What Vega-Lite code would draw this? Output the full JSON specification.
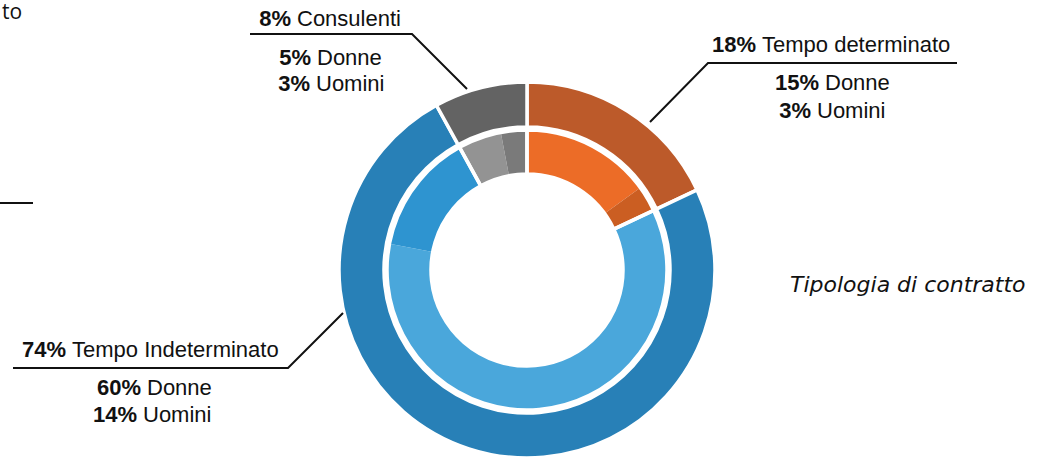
{
  "$schema": "https://vega.github.io/schema/vega-lite/v6.json",
  "width": 1053,
  "height": 458,
  "padding": 0,
  "autosize": {"type": "none"},
  "background": "white",
  "config": {"view": {"stroke": null}},
  "datasets": {
    "outer": [
      {"seg": "O-det", "v": 18, "o": 1},
      {"seg": "O-ind", "v": 74, "o": 2},
      {"seg": "O-cons", "v": 8, "o": 3}
    ],
    "inner": [
      {"seg": "I-det-D", "v": 15, "o": 1},
      {"seg": "I-det-U", "v": 3, "o": 2},
      {"seg": "I-ind-D", "v": 60, "o": 3},
      {"seg": "I-ind-U", "v": 14, "o": 4},
      {"seg": "I-cons-D", "v": 5, "o": 5},
      {"seg": "I-cons-U", "v": 3, "o": 6}
    ],
    "leaders": [
      {"g": "cons", "i": 1, "lx": -277, "ly": 236},
      {"g": "cons", "i": 2, "lx": -115, "ly": 236},
      {"g": "cons", "i": 3, "lx": -60, "ly": 181},
      {"g": "det", "i": 1, "lx": 430, "ly": 207},
      {"g": "det", "i": 2, "lx": 181, "ly": 207},
      {"g": "det", "i": 3, "lx": 123, "ly": 148},
      {"g": "ind", "i": 1, "lx": -514, "ly": -98},
      {"g": "ind", "i": 2, "lx": -239, "ly": -98},
      {"g": "ind", "i": 3, "lx": -184, "ly": -43},
      {"g": "rem", "i": 1, "lx": -527, "ly": 67},
      {"g": "rem", "i": 2, "lx": -494, "ly": 67}
    ],
    "labels": [
      {"lx": -236, "ly": 244, "pct": "8%", "name": "Consulenti"},
      {"lx": -216, "ly": 205, "pct": "5%", "name": "Donne"},
      {"lx": -217, "ly": 179, "pct": "3%", "name": "Uomini"},
      {"lx": 229, "ly": 218, "pct": "18%", "name": "Tempo determinato"},
      {"lx": 292, "ly": 180, "pct": "15%", "name": "Donne"},
      {"lx": 284, "ly": 152, "pct": "3%", "name": "Uomini"},
      {"lx": -461, "ly": -87, "pct": "74%", "name": "Tempo Indeterminato"},
      {"lx": -386, "ly": -125, "pct": "60%", "name": "Donne"},
      {"lx": -390, "ly": -152, "pct": "14%", "name": "Uomini"}
    ],
    "notes": [
      {"lx": 263, "ly": -22, "t": "Tipologia di contratto"}
    ],
    "remnant": [
      {"lx": -525, "ly": 251, "t": "to"}
    ]
  },
  "layer": [
    {
      "data": {"name": "outer"},
      "mark": {"type": "arc", "radius": 188, "radius2": 143, "stroke": "white", "strokeWidth": 3.5},
      "encoding": {
        "x": {"datum": 0, "type": "quantitative", "scale": {"domain": [-527, 526], "nice": false, "zero": false}, "axis": null},
        "y": {"datum": 0, "type": "quantitative", "scale": {"domain": [-188, 270], "nice": false, "zero": false}, "axis": null},
        "theta": {"field": "v", "type": "quantitative", "stack": true, "scale": {"domain": [0, 100]}},
        "order": {"field": "o"},
        "color": {
          "field": "seg", "type": "nominal", "legend": null,
          "scale": {
            "domain": ["O-det", "O-ind", "O-cons", "I-det-D", "I-det-U", "I-ind-D", "I-ind-U", "I-cons-D", "I-cons-U"],
            "range": ["#BC5A2A", "#2880B7", "#636363", "#EC6C27", "#CB5E22", "#4AA7DB", "#2E94D0", "#939393", "#7A7A7A"]
          }
        }
      }
    },
    {
      "data": {"name": "inner"},
      "mark": {"type": "arc", "radius": 140, "radius2": 96},
      "encoding": {
        "x": {"datum": 0, "type": "quantitative", "scale": {"domain": [-527, 526], "nice": false, "zero": false}, "axis": null},
        "y": {"datum": 0, "type": "quantitative", "scale": {"domain": [-188, 270], "nice": false, "zero": false}, "axis": null},
        "theta": {"field": "v", "type": "quantitative", "stack": true, "scale": {"domain": [0, 100]}},
        "order": {"field": "o"},
        "color": {"field": "seg", "type": "nominal", "legend": null}
      }
    },
    {
      "data": {"name": "outer"},
      "mark": {"type": "arc", "radius": 140, "radius2": 96, "fill": "white", "fillOpacity": 0, "stroke": "white", "strokeWidth": 3.5},
      "encoding": {
        "x": {"datum": 0, "type": "quantitative", "scale": {"domain": [-527, 526], "nice": false, "zero": false}, "axis": null},
        "y": {"datum": 0, "type": "quantitative", "scale": {"domain": [-188, 270], "nice": false, "zero": false}, "axis": null},
        "theta": {"field": "v", "type": "quantitative", "stack": true, "scale": {"domain": [0, 100]}},
        "order": {"field": "o"}
      }
    },
    {
      "data": {"name": "leaders"},
      "mark": {"type": "line", "color": "#111111", "strokeWidth": 2, "interpolate": "linear"},
      "encoding": {
        "x": {"field": "lx", "type": "quantitative", "scale": {"domain": [-527, 526], "nice": false, "zero": false}, "axis": null},
        "y": {"field": "ly", "type": "quantitative", "scale": {"domain": [-188, 270], "nice": false, "zero": false}, "axis": null},
        "detail": {"field": "g"},
        "order": {"field": "i"}
      }
    },
    {
      "data": {"name": "labels"},
      "mark": {"type": "text", "align": "right", "baseline": "alphabetic", "font": "Liberation Sans", "fontSize": 22, "fontWeight": "bold", "color": "#111111"},
      "encoding": {
        "x": {"field": "lx", "type": "quantitative", "axis": null},
        "y": {"field": "ly", "type": "quantitative", "axis": null},
        "text": {"field": "pct"}
      }
    },
    {
      "data": {"name": "labels"},
      "mark": {"type": "text", "align": "left", "baseline": "alphabetic", "dx": 6, "font": "Liberation Sans", "fontSize": 22, "color": "#111111"},
      "encoding": {
        "x": {"field": "lx", "type": "quantitative", "axis": null},
        "y": {"field": "ly", "type": "quantitative", "axis": null},
        "text": {"field": "name"}
      }
    },
    {
      "data": {"name": "notes"},
      "mark": {"type": "text", "align": "left", "baseline": "alphabetic", "font": "DejaVu Sans", "fontStyle": "italic", "fontSize": 22, "color": "#111111"},
      "encoding": {
        "x": {"field": "lx", "type": "quantitative", "axis": null},
        "y": {"field": "ly", "type": "quantitative", "axis": null},
        "text": {"field": "t"}
      }
    },
    {
      "data": {"name": "remnant"},
      "mark": {"type": "text", "align": "left", "baseline": "alphabetic", "font": "Open Sans", "fontSize": 21, "color": "#111111"},
      "encoding": {
        "x": {"field": "lx", "type": "quantitative", "axis": null},
        "y": {"field": "ly", "type": "quantitative", "axis": null},
        "text": {"field": "t"}
      }
    }
  ]
}
